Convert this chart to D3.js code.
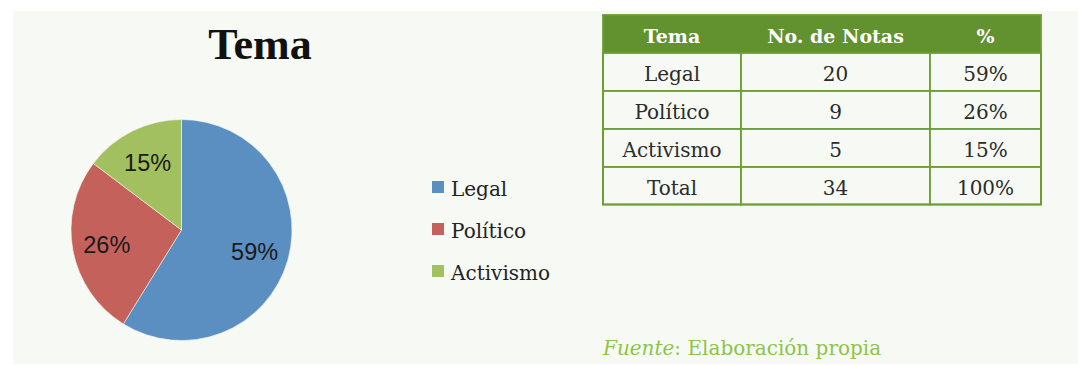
<!DOCTYPE html>
<html>
<head>
<meta charset="utf-8">
<script src="https://cdn.jsdelivr.net/npm/d3@7"></script>
<style>
  html, body { margin: 0; padding: 0; background: #ffffff; }
  svg { display: block; }
</style>
</head>
<body>
<svg id="chart" width="1078" height="365"></svg>
<script>
// Topics and the number of notes for each
const temas = ["Legal", "Político", "Activismo"];
const notas = [20, 9, 5];
const porcentajes = ["59%", "26%", "15%"];
const colores = ["#5b8ec1", "#c4615a", "#a2c05f"];

// Summary table rows
const encabezados = ["Tema", "No. de Notas", "%"];
const filaTotal = ["Total", "34", "100%"];

const svg = d3.select("#chart");

// panel background
svg.append("rect")
  .attr("x", 13).attr("y", 11)
  .attr("width", 1065).attr("height", 353)
  .attr("fill", "#f7faf4");

// title
svg.append("text")
  .attr("x", 260).attr("y", 59)
  .attr("text-anchor", "middle")
  .attr("font-family", "'Liberation Serif', serif")
  .attr("font-weight", "bold")
  .attr("font-size", 44)
  .attr("fill", "#111")
  .text("Tema");

// pie
const cx = 181.5, cy = 230, R = 110.5;
const pie = d3.pie().sort(null).value(d => d)(notas);
const arc = d3.arc().innerRadius(0).outerRadius(R);
const labelArc = d3.arc().innerRadius(76).outerRadius(76);

const g = svg.append("g").attr("transform", `translate(${cx},${cy})`);
g.selectAll("path.slice")
  .data(pie)
  .join("path")
  .attr("class", "slice")
  .attr("d", arc)
  .attr("fill", (d, i) => colores[i])
  .attr("stroke", "#f4f6f0")
  .attr("stroke-width", 0.6);

g.selectAll("text.pct")
  .data(pie)
  .join("text")
  .attr("class", "pct")
  .attr("transform", d => `translate(${labelArc.centroid(d)})`)
  .attr("text-anchor", "middle")
  .attr("dy", "0.4em")
  .attr("font-family", "'Liberation Sans', sans-serif")
  .attr("font-size", 23.5)
  .attr("fill", "#1a1a1a")
  .text((d, i) => porcentajes[i]);

// legend
const legend = svg.append("g").attr("transform", "translate(432,181)");
const li = legend.selectAll("g")
  .data(temas)
  .join("g")
  .attr("transform", (d, i) => `translate(0,${i * 42})`);
li.append("rect")
  .attr("width", 12).attr("height", 12)
  .attr("fill", (d, i) => colores[i]);
li.append("text")
  .attr("x", 19).attr("y", 15)
  .attr("font-family", "'DejaVu Serif', serif")
  .attr("font-size", 20)
  .attr("fill", "#222")
  .text(d => d);

// summary table
const colX = [603, 741, 930, 1041];
const rowY = [15, 53, 91, 129, 167, 204.5];
const green = "#629130";
const border = "#6c9e34";

const filas = temas.map((t, i) => [t, String(notas[i]), porcentajes[i]]).concat([filaTotal]);

const table = svg.append("g");
table.append("rect")
  .attr("x", colX[0]).attr("y", rowY[0])
  .attr("width", colX[3] - colX[0]).attr("height", rowY[1] - rowY[0])
  .attr("fill", green);

// body cells
filas.forEach((fila, r) => {
  fila.forEach((val, c) => {
    table.append("rect")
      .attr("x", colX[c]).attr("y", rowY[r + 1])
      .attr("width", colX[c + 1] - colX[c]).attr("height", rowY[r + 2] - rowY[r + 1])
      .attr("fill", "#f7faf4")
      .attr("stroke", border).attr("stroke-width", 1.8);
    table.append("text")
      .attr("x", (colX[c] + colX[c + 1]) / 2)
      .attr("y", rowY[r + 1] + 28)
      .attr("text-anchor", "middle")
      .attr("font-family", "'DejaVu Serif', serif")
      .attr("font-size", 20)
      .attr("fill", "#2b2b2b")
      .text(val);
  });
});

// header texts
encabezados.forEach((h, c) => {
  table.append("text")
    .attr("x", (colX[c] + colX[c + 1]) / 2)
    .attr("y", rowY[0] + 28)
    .attr("text-anchor", "middle")
    .attr("font-family", "'DejaVu Serif', serif")
    .attr("font-weight", "bold")
    .attr("font-size", 19)
    .attr("fill", "#ffffff")
    .text(h);
});

// outer border of the table
table.append("rect")
  .attr("x", colX[0]).attr("y", rowY[0])
  .attr("width", colX[3] - colX[0]).attr("height", rowY[5] - rowY[0])
  .attr("fill", "none")
  .attr("stroke", border).attr("stroke-width", 1.8);

// source note
const fuente = svg.append("text")
  .attr("x", 603).attr("y", 355)
  .attr("font-family", "'DejaVu Serif', serif")
  .attr("font-size", 20)
  .attr("fill", "#8dc44a");
fuente.append("tspan").attr("font-style", "italic").text("Fuente");
fuente.append("tspan").text(": Elaboración propia");
</script>
</body>
</html>
